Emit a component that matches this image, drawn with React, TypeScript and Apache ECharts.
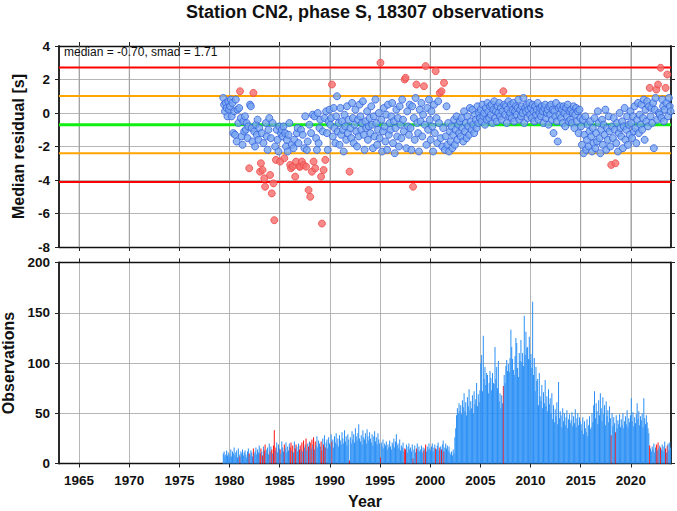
import React, { useEffect, useRef } from "react";
import * as echarts from "echarts";

const stationTitle = "Station CN2, phase S, 18307 observations";
const median = -0.7;
const smad = 1.71;
const xMinYear = 1963;
const xMaxYear = 2024;
const yearTicks = [1965, 1970, 1975, 1980, 1985, 1990, 1995, 2000, 2005, 2010, 2015, 2020];
const firstYear = 1979;
const firstMonth = 4; // May, 0-based

// monthly median residuals [s], from May 1979
const resid1979to1984 = [
  0.9, 0.5, 0.1, 0.6, 0.3, -0.2, 0.7, 0.2,
  0.4, 0.8, -0.2, 0.6, -1.2, 0.1, -1.3, 0.8, -1.7, 0.2, -0.6, 0.3,
  1.3, -0.3, -1.4, -1.9, -0.5, -1.1, -0.2, -1.0, -0.6, -1.5, -0.8, -3.3,
  0.5, 0.4, -0.9, -1.7, 1.2, -1.1, -2.0, -0.7, -1.3, -0.4, -1.6, -0.9,
  -3.5, -3.0, -1.2, -3.4, -1.8, -3.9, -4.4, -0.6, -1.4, -2.2, -1.0, -0.3,
  -3.7, -1.5, -4.8, -0.6, -4.2, -6.4, -2.0, -2.8, -1.0, -1.6, -2.3, -0.8,
];
const resid1985to1994 = [
  -2.9, -1.2, -1.0, -1.4, -0.8, -2.7, -1.2, -2.0, -1.6, -2.3, -1.3, -0.6,
  -3.1, -3.3, -1.9, -3.2, -2.1, -1.6, -3.8, -2.9, -1.2, -0.9, -1.8, -3.2,
  -3.2, -1.0, -2.9, -1.3, -3.1, -2.1, -0.2, -3.2, -2.2, -1.7, -4.6, -0.7,
  -5.0, -1.2, -3.5, -0.1, -2.9, -0.2, -3.3, -1.5, -2.2, 0.0, -1.8, -0.9,
  -0.4, -3.8, -6.6, -1.1, -3.4, -0.3, -2.8, 0.1, -1.2, -2.2, -0.5, 0.2,
  -0.7, -0.3, 1.7, -1.4, 0.3, -0.9, -1.8, -0.2, 1.0, -1.1, -0.6, -1.9,
  0.3, -1.3, -0.5, -1.0, -2.3, -0.1, -0.8, -1.6, 0.4, -1.2, -0.4, -3.5,
  -0.9, -1.5, 0.6, -0.3, -1.8, -0.7, 0.2, -1.1, -2.0, -0.4, -1.4, 0.5,
  -0.2, -1.0, -0.6, 0.7, -1.3, -2.2, -0.5, -0.9, 0.1, -1.6, -0.8, -0.3,
  -1.2, 0.4, -0.7, -2.1, -0.2, -1.4, 0.8, -0.6, -1.9, -1.0, 0.0, -1.5,
];
const resid1995to2004 = [
  3.0, -0.4, -2.3, -1.1, 0.3, -0.8, -1.7, -0.1, -2.2, 0.5, -1.3, -0.6,
  -1.0, -0.2, 0.6, -1.8, -0.5, -2.4, -0.9, 0.2, -1.4, -0.3, -2.0, 0.4,
  -0.7, -1.5, 0.8, -0.4, -1.1, 2.0, 2.1, -2.1, 0.1, -0.8, -1.3, 0.5,
  -0.9, -2.2, 0.4, -4.4, -0.3, -1.6, 0.9, 1.7, -0.6, -1.2, -2.3, 0.2,
  -0.5, 0.6, -1.4, -0.1, 1.6, -0.7, 2.8, -1.9, 0.3, -1.0, 0.8, -0.4,
  -1.6, 0.1, -0.8, -2.3, 0.5, -1.2, 2.5, -0.3, -1.8, 0.7, -0.6, 1.2,
  -1.5, 1.3, -2.0, -0.9, 1.8, -2.2, -1.4, 0.4, -1.9, -0.6, -2.3, -1.1,
  -1.7, -0.8, -2.1, -1.3, -0.4, -1.9, -1.0, -0.2, -1.6, -0.7, -1.2, -0.5,
  -1.4, -0.3, -0.9, -1.7, 0.1, -1.1, -0.6, -1.5, -0.2, -0.8, -1.3, 0.3,
  -0.5, -1.0, 0.2, -0.7, -1.2, -0.1, -0.4, -0.9, 0.4, -0.6, 0.0, -0.3,
];
const resid2005to2014 = [
  0.2, -0.5, 0.5, -0.2, 0.0, -0.7, 0.3, -0.4, 0.6, 0.1, -0.3, 0.4,
  -0.1, 0.5, -0.6, 0.2, 0.7, -0.3, 0.1, -0.5, 0.4, 0.0, 0.6, -0.2,
  0.3, -0.4, 0.1, 1.3, 0.5, -0.1, 0.4, -0.6, 0.2, 0.7, -0.2, 0.0,
  0.5, -0.3, 0.2, 0.6, -0.5, 0.1, 0.4, -0.1, 0.3, 0.8, -0.4, 0.2,
  -0.2, 0.4, 0.0, 0.9, -0.6, 0.3, 0.1, 0.5, -0.3, 0.2, 0.6, -0.1,
  0.3, -0.3, 0.5, 0.1, -0.5, 0.4, -0.1, 0.2, 0.6, -0.4, 0.0, 0.3,
  -0.2, 0.4, 0.1, -0.6, 0.3, 0.5, -0.3, 0.0, 0.2, -0.7, 0.4, -0.1,
  0.5, -0.4, 0.2, -1.2, 0.1, -0.2, 0.6, -0.5, -1.7, 0.3, -0.1, 0.4,
  -0.3, 0.2, -0.6, 0.4, 0.0, -0.8, 0.3, -0.2, 0.5, -0.5, 0.1, -0.4,
  0.2, -0.6, 0.0, 0.4, -0.9, -0.1, 0.3, -0.5, 0.1, -1.2, 0.2, -0.3,
];
const resid2015to2023 = [
  -0.8, -1.9, -0.4, -2.4, -1.3, -0.2, -2.2, -1.6, -0.7, -2.0, -1.1, -0.5,
  -1.4, -2.3, -0.9, -1.8, -0.3, -2.1, -1.2, -1.7, 0.1, -0.6, -1.5, -2.4,
  -1.0, -0.4, -1.9, -0.7, -1.3, 0.2, -2.2, -0.9, -1.6, -0.2, -1.1, -2.0,
  -3.1, -0.8, -1.5, -0.3, -1.0, -3.0, -1.8, -0.6, -2.3, -1.2, 0.0, -0.9,
  -1.4, -0.5, -2.1, -0.8, 0.3, -1.6, -1.0, -0.2, -1.9, -0.7, -1.3, 0.1,
  -0.6, -1.5, -0.2, -1.1, 0.4, -0.9, -1.8, -0.4, 0.6, -1.2, -0.1, -0.7,
  0.5, -1.0, -0.3, 0.8, -1.6, 0.2, -0.5, 0.7, -0.8, 0.4, 1.5, -0.2,
  0.3, -0.6, 0.6, -2.1, 0.2, 0.9, 1.4, -0.4, 1.7, 0.0, -0.1, 2.7,
  -0.3, 0.8, 0.4, -0.5, 0.2, 1.5, 0.6, 2.3, -0.2, 0.9, 0.4, 0.1,
];

// monthly observation counts, from May 1979
const obs1979to1984 = [
  10, 12, 7, 9, 13, 8, 11, 6,
  9, 14, 7, 12, 10, 16, 8, 11, 13, 6, 15, 9,
  7, 12, 10, 14, 8, 11, 13, 9, 6, 12, 15, 10,
  8, 13, 11, 7, 15, 10, 12, 16, 9, 14, 11, 18,
  10, 15, 12, 8, 17, 13, 19, 11, 14, 16, 9, 20,
  12, 17, 14, 10, 18, 33, 13, 16, 21, 11, 19, 15,
];
const obs1985to1994 = [
  14, 10, 22, 16, 12, 19, 15, 21, 11, 17, 13, 20,
  16, 21, 13, 18, 11, 22, 15, 19, 17, 12, 20, 14,
  18, 14, 21, 12, 23, 16, 19, 25, 13, 20, 17, 22,
  21, 15, 24, 19, 26, 14, 22, 18, 27, 16, 23, 20,
  17, 22, 13, 25, 19, 28, 16, 21, 24, 15, 26, 20,
  18, 29, 22, 24, 16, 27, 21, 30, 19, 25, 17, 28,
  23, 19, 31, 25, 20, 33, 22, 27, 18, 29, 24, 3,
  26, 20, 32, 24, 29, 21, 35, 27, 23, 30, 39, 25,
  22, 28, 19, 33, 26, 24, 30, 20, 34, 27, 23, 31,
  25, 21, 29, 18, 27, 32, 22, 26, 19, 30, 24, 20,
];
const obs1995to2004 = [
  6, 21, 17, 24, 15, 20, 18, 22, 14, 19, 16, 23,
  17, 14, 21, 19, 25, 16, 22, 29, 18, 20, 15, 24,
  13, 18, 16, 21, 12, 15, 14, 19, 11, 17, 20, 14,
  16, 12, 19, 5, 14, 18, 11, 15, 20, 13, 17, 12,
  14, 18, 11, 16, 13, 15, 19, 12, 17, 14, 20, 15,
  13, 17, 20, 12, 16, 19, 15, 14, 18, 21, 13, 16,
  17, 14, 19, 23, 12, 16, 20, 15, 18, 13, 17, 11,
  9, 12, 8, 14, 10, 26, 35, 48, 55, 50, 60, 52,
  58, 49, 63, 56, 70, 52, 61, 48, 66, 57, 74, 53,
  62, 55, 68, 50, 72, 59, 64, 80, 57, 69, 61, 73,
];
const obs2005to2014 = [
  100, 108, 72, 127, 84, 96, 78, 90, 88, 70, 80, 92,
  85, 73, 90, 80, 79, 116, 84, 96, 75, 102, 62, 70,
  55, 68, 60, 77, 88, 80, 97, 103, 92, 99, 91, 105,
  133, 116, 104, 93, 88, 107, 125, 120, 95, 86, 110, 102,
  123, 101, 110, 97, 147, 108, 131, 115, 116, 104, 126, 103,
  109, 95, 161, 88, 105, 72, 96, 82, 84, 58, 90, 67,
  62, 78, 55, 71, 60, 83, 57, 67, 52, 74, 59, 65,
  50, 70, 44, 58, 41, 54, 47, 61, 39, 81, 45, 52,
  48, 36, 55, 42, 50, 38, 46, 53, 35, 44, 49, 40,
  43, 51, 37, 47, 40, 54, 36, 45, 50, 38, 46, 42,
];
const obs2015to2023 = [
  39, 33, 46, 29, 42, 35, 31, 44, 27, 38, 47, 34,
  36, 50, 41, 58, 72, 45, 60, 52, 39, 63, 48, 70,
  55, 42, 66, 49, 58, 38, 62, 47, 53, 41, 57, 45,
  28, 50, 37, 46, 40, 31, 48, 35, 43, 39, 49, 36,
  44, 38, 50, 35, 42, 47, 39, 53, 36, 45, 41, 48,
  65, 42, 51, 37, 46, 40, 49, 60, 44, 52, 38, 47,
  43, 50, 36, 65, 45, 39, 48, 41, 35, 30, 18, 15,
  12, 17, 14, 20, 11, 16, 19, 13, 21, 15, 18, 16,
  14, 19, 12, 17, 22, 15, 11, 18, 20, 13, 21, 16,
];

const FONT = "'Liberation Sans', Arial, Helvetica, sans-serif";

export default function App() {
  const ref = useRef<HTMLDivElement>(null);
  useEffect(() => {
    if (!ref.current) return;
    const chart = echarts.init(ref.current, undefined, { renderer: "svg" });

    const residuals = [
      ...resid1979to1984,
      ...resid1985to1994,
      ...resid1995to2004,
      ...resid2005to2014,
      ...resid2015to2023,
    ];
    const counts = [
      ...obs1979to1984,
      ...obs1985to1994,
      ...obs1995to2004,
      ...obs2005to2014,
      ...obs2015to2023,
    ];
    const monthX = (i: number) => firstYear + (firstMonth + i + 0.5) / 12;
    const hi = median + smad;
    const lo = median - smad;
    const isOut = (v: number) => v > hi || v < lo;

    const blueFill = "#78a6f0";
    const blueEdge = "#3562df";
    const redFill = "#f56b6b";
    const redEdge = "#ee4a4a";

    const scatterData = residuals.map((v, i) => ({
      value: [monthX(i), v],
      itemStyle: isOut(v)
        ? { color: redFill, borderColor: redEdge, borderWidth: 1 }
        : { color: blueFill, borderColor: blueEdge, borderWidth: 1 },
    }));
    const barData = counts.map((c, i) => ({
      value: [monthX(i), c],
      itemStyle: { color: isOut(residuals[i]) ? "#ff1010" : "#2a8ff5" },
    }));

    const refLines = [
      { v: median + 2 * smad, color: "#ff0000", w: 2 },
      { v: median + smad, color: "#ffa500", w: 2 },
      { v: median, color: "#11ee11", w: 3 },
      { v: median - smad, color: "#ffa500", w: 2 },
      { v: median - 2 * smad, color: "#ff0000", w: 2 },
    ];

    const gridLeft = 59;
    const gridRight = 6;
    const gridColor = "#a3a3a3";
    const tick = { show: true, inside: false, length: 4, lineStyle: { color: "#222", width: 1 } };
    const labelStyle = { fontFamily: FONT, fontWeight: "bold" as const, fontSize: 13.5, color: "#111" };

    const xBase = (gridIndex: number, position: "top" | "bottom", showLabels: boolean, split: boolean) => ({
      type: "value" as const,
      gridIndex,
      position,
      min: xMinYear,
      max: xMaxYear,
      axisLine: { show: true, onZero: false, lineStyle: { color: "#111", width: 1.3 } },
      axisTick: { ...tick, customValues: yearTicks },
      axisLabel: {
        show: showLabels,
        margin: 10,
        customValues: yearTicks,
        formatter: (v: number) => String(v),
        ...labelStyle,
      },
      splitLine: split ? { show: true, lineStyle: { color: gridColor, width: 0.8 } } : { show: false },
    });

    const yBase = (gridIndex: number, position: "left" | "right", min: number, max: number, interval: number, showLabels: boolean, split: boolean) => ({
      type: "value" as const,
      gridIndex,
      position,
      min,
      max,
      interval,
      axisLine: { show: true, onZero: false, lineStyle: { color: "#2a2a2a", width: 2 } },
      axisTick: tick,
      axisLabel: { show: showLabels, margin: 9, ...labelStyle },
      splitLine: split ? { show: true, lineStyle: { color: gridColor, width: 0.8 } } : { show: false },
    });

    const nameStyle = { fontFamily: FONT, fontWeight: "bold", fontSize: 16, color: "#111" };
    const yAxis0: any = yBase(0, "left", -8, 4, 2, true, true);
    yAxis0.name = "Median residual [s]";
    yAxis0.nameLocation = "middle";
    yAxis0.nameGap = 33;
    yAxis0.nameTextStyle = nameStyle;
    const yAxis2: any = yBase(1, "left", 0, 200, 50, true, true);
    yAxis2.name = "Observations";
    yAxis2.nameLocation = "middle";
    yAxis2.nameGap = 42;
    yAxis2.nameTextStyle = nameStyle;
    const xAxis2: any = xBase(1, "bottom", true, true);
    xAxis2.name = "Year";
    xAxis2.nameLocation = "middle";
    xAxis2.nameGap = 30;
    xAxis2.nameTextStyle = nameStyle;

    const textGraphics: any[] = [
      {
        id: "title",
        type: "text",
        x: 365,
        y: 12,
        style: {
          text: stationTitle,
          textAlign: "center",
          textVerticalAlign: "middle",
          font: `bold 18px ${FONT}`,
          fill: "#111",
        },
      },
      {
        id: "stats",
        type: "text",
        x: 64,
        y: 52,
        z: 100,
        style: {
          text: `median = ${median.toFixed(2)}, smad = ${smad.toFixed(2)}`,
          textAlign: "left",
          textVerticalAlign: "middle",
          font: `12px ${FONT}`,
          fill: "#111",
        },
      },
    ];

    chart.setOption({
      animation: false,
      backgroundColor: "#ffffff",
      grid: [
        { left: gridLeft, right: gridRight, top: 46, height: 201, outerBoundsMode: "none", containLabel: false },
        { left: gridLeft, right: gridRight, top: 262.5, height: 201, outerBoundsMode: "none", containLabel: false },
      ],
      xAxis: [
        xBase(0, "bottom", false, true),
        xBase(0, "top", false, true),
        xAxis2,
        xBase(1, "top", false, false),
      ],
      yAxis: [
        yAxis0,
        yBase(0, "right", -8, 4, 2, false, false),
        yAxis2,
        yBase(1, "right", 0, 200, 50, false, false),
      ],
      graphic: textGraphics,
      series: [
        ...refLines.map((l) => ({
          type: "line",
          xAxisIndex: 0,
          yAxisIndex: 0,
          data: [
            [xMinYear, l.v],
            [xMaxYear, l.v],
          ],
          symbol: "none",
          silent: true,
          z: 2,
          lineStyle: { color: l.color, width: l.w },
        })),
        {
          type: "scatter",
          xAxisIndex: 0,
          yAxisIndex: 0,
          data: scatterData,
          symbol: "circle",
          symbolSize: 7,
          z: 3,
        },
        {
          type: "bar",
          xAxisIndex: 2,
          yAxisIndex: 2,
          data: barData,
          barWidth: 1,
          z: 2,
        },
      ],
    });

    // year grid lines of the residual panel, placed through the panel's own scales
    const finder = { xAxisIndex: 0, yAxisIndex: 0 };
    const yearLines = yearTicks.map((yr, k) => {
      const a = chart.convertToPixel(finder as any, [yr, 4]) as number[];
      const b = chart.convertToPixel(finder as any, [yr, -8]) as number[];
      return {
        id: "yearline" + k,
        type: "line",
        silent: true,
        z: 1,
        shape: { x1: a[0], y1: a[1], x2: b[0], y2: b[1] },
        style: { stroke: gridColor, lineWidth: 0.8 },
      };
    });
    chart.setOption({ graphic: [...textGraphics, ...yearLines] });

    return () => chart.dispose();
  }, []);
  return (
    <div
      ref={ref}
      style={{ position: "fixed", left: 0, top: 0, width: 677, height: 511, background: "#fff" }}
    />
  );
}
